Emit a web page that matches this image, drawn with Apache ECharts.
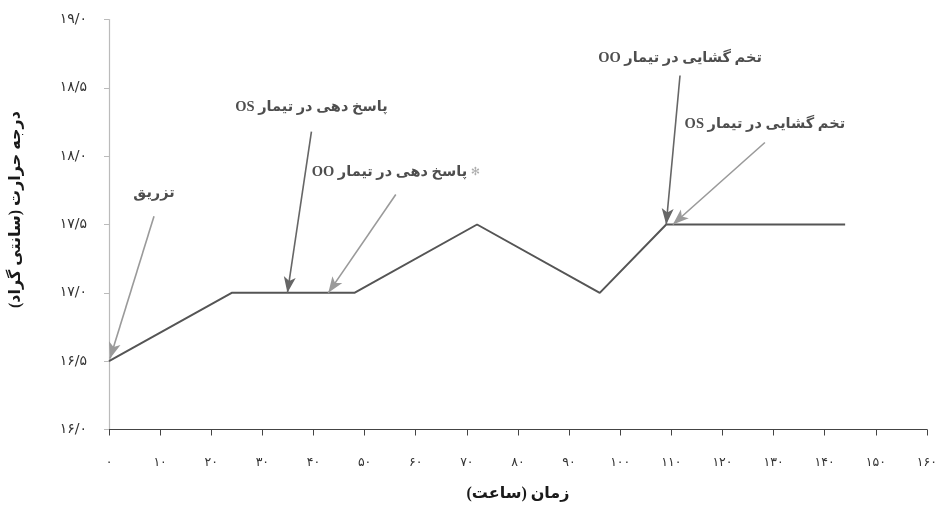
<!DOCTYPE html>
<html>
<head>
<meta charset="utf-8">
<script src="https://cdn.jsdelivr.net/npm/echarts@6/dist/echarts.min.js"></script>
<style>
  html, body { margin: 0; padding: 0; background: #fff; }
  #chart-container { width: 940px; height: 509px; }
</style>
</head>
<body>
<div id="chart-container"></div>
<script>
// hours after injection and water temperature (deg C)
const hours = [0, 24, 48, 72, 96, 109, 144];
const temps = [16.5, 17.0, 17.0, 17.5, 17.0, 17.5, 17.5];

// annotation text, where the text sits, and arrow tail -> head (data units)
const noteTexts = ['تزریق', 'پاسخ دهی در تیمار OS', 'پاسخ دهی در تیمار OO', 'تخم گشایی در تیمار OO', 'تخم گشایی در تیمار OS'];
const noteStar = [false, false, true, false, false];
const noteTextPos = [[8.8, 17.73], [39.6, 18.36], [56.1, 17.88], [111.7, 18.72], [128.3, 18.23]];
const arrowTails = [[8.8, 17.56], [39.6, 18.18], [56.1, 17.72], [111.7, 18.59], [128.3, 18.10]];
const arrowHeads = [[0.2, 16.52], [34.9, 17.0], [42.9, 17.0], [109.0, 17.5], [110.3, 17.5]];
const arrowColors = ['#9a9a9a', '#666', '#9a9a9a', '#666', '#9a9a9a'];

const yTitle = 'درجه حرارت (سانتی گراد)';
const xTitle = 'زمان (ساعت)';

const faDigits = '۰۱۲۳۴۵۶۷۸۹';
function toFa(str) {
  return String(str).replace(/[0-9]/g, d => faDigits[+d]);
}
// wrap text in a right-to-left embedding so the canvas orders it like the original
function rtl(s) {
  return '\u202B' + s + '\u202C';
}

const chartContainer = document.getElementById('chart-container');
const myChart = echarts.init(chartContainer, null, { renderer: 'canvas' });

const fontFa = '"Liberation Serif", "DejaVu Sans", serif';

let option = {
  animation: false,
  grid: { left: 107, right: 13, top: 19.5, bottom: 79.5 },
  xAxis: {
    type: 'value',
    min: 0,
    max: 160,
    interval: 10,
    name: rtl(xTitle),
    nameLocation: 'middle',
    nameGap: 56,
    nameTextStyle: { fontFamily: fontFa, fontWeight: 'bold', fontSize: 16, color: '#1a1a1a' },
    axisLine: { lineStyle: { color: '#444', width: 1.2 } },
    axisTick: { length: 6, lineStyle: { color: '#444' } },
    axisLabel: {
      margin: 27,
      fontFamily: '"DejaVu Sans"',
      fontSize: 12.5,
      color: '#333',
      formatter: v => toFa(v)
    },
    splitLine: { show: false }
  },
  yAxis: {
    type: 'value',
    min: 16,
    max: 19,
    interval: 0.5,
    name: rtl(yTitle),
    nameLocation: 'middle',
    nameRotate: 90,
    nameGap: 85,
    nameTextStyle: {
      fontFamily: fontFa, fontWeight: 'bold', fontSize: 16, color: '#1a1a1a',
      padding: [0, 0, 0, 30]
    },
    axisLine: { show: true, lineStyle: { color: '#bbb', width: 1.2 } },
    axisTick: { show: true, length: 5, lineStyle: { color: '#bbb' } },
    axisLabel: {
      margin: 22,
      fontFamily: '"DejaVu Sans"',
      fontSize: 14,
      color: '#333',
      formatter: v => toFa(v.toFixed(1).replace('.', '/'))
    },
    splitLine: { show: false }
  },
  series: [
    {
      name: 'temp',
      type: 'line',
      data: hours.map((h, i) => [h, temps[i]]),
      symbol: 'none',
      lineStyle: { color: '#555', width: 2 },
      z: 3,
      markLine: {
        silent: true,
        symbol: ['none', 'arrow'],
        symbolSize: [9, 16],
        label: { show: false },
        animation: false,
        data: arrowTails.map((t, i) => [
          { coord: t, lineStyle: { color: arrowColors[i], width: 1.6, type: 'solid' } },
          { coord: arrowHeads[i] }
        ])
      }
    },
    {
      name: 'notes',
      type: 'scatter',
      symbolSize: 0,
      silent: true,
      data: noteTexts.map((t, i) => ({ name: t, value: noteTextPos[i], star: noteStar[i] })),
      label: {
        show: true,
        position: 'inside',
        formatter: p => '{t|' + rtl(p.name) + '}' + (p.data.star ? '{s| ✻}' : ''),
        rich: {
          t: { fontFamily: fontFa, fontWeight: 'bold', fontSize: 14.5, color: '#222' },
          s: { fontFamily: '"DejaVu Sans"', fontSize: 11, color: '#999' }
        }
      }
    }
  ]
};

if (option && typeof option === 'object') {
  myChart.setOption(option);
}
window.addEventListener('resize', myChart.resize);
</script>
</body>
</html>
